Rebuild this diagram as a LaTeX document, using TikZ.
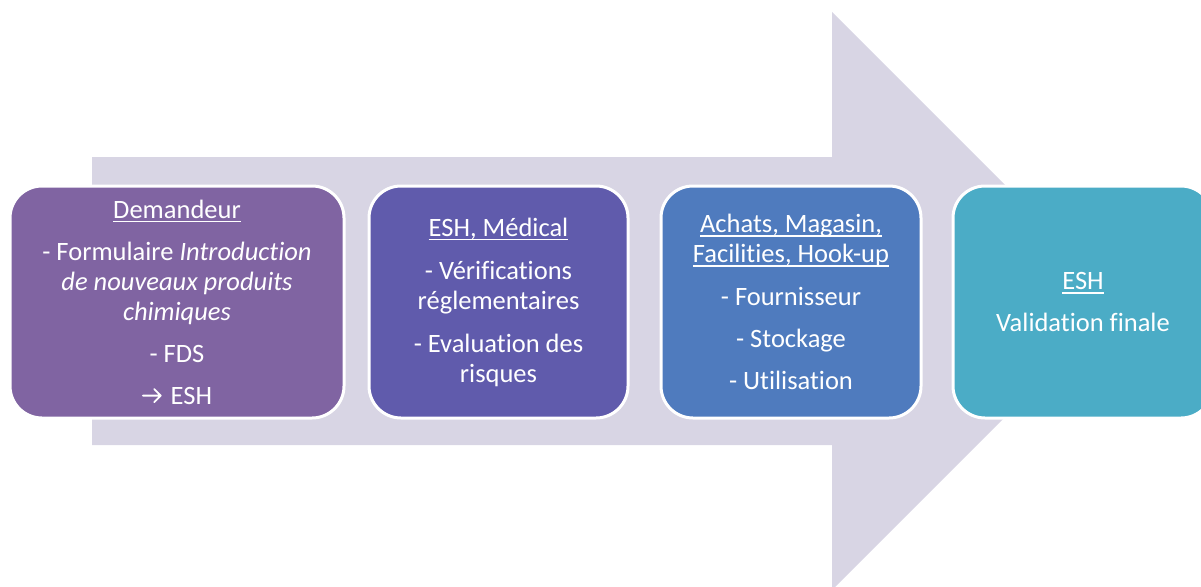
\documentclass[tikz,border=0pt]{standalone}
\usepackage{fontspec}
\setmainfont[Ligatures=NoCommon]{Carlito}
\definecolor{arrowbg}{RGB}{216,213,228}
\definecolor{cone}{RGB}{128,100,162}
\definecolor{ctwo}{RGB}{96,91,172}
\definecolor{cthree}{RGB}{79,123,190}
\definecolor{cfour}{RGB}{75,172,198}
\newcommand{\ulx}[1]{\setbox0\hbox{#1}\rlap{\rule[-4pt]{\wd0}{1.4pt}}\box0}
\newcommand{\tharrow}{\tikz[x=1pt,y=1pt,baseline=0pt]{\draw[white, line width=1.8pt, line cap=round, line join=round, rounded corners=0pt] (0,8.5) -- (18,8.5) (11.5,2) -- (18,8.5) -- (11.5,15);}}
\tikzset{
  stepbox/.style={draw=white, line width=3pt, rounded corners=32pt,
    minimum height=232pt, text=white, align=center, inner sep=0pt,
    font=\fontsize{26.5}{30}\selectfont}
}
\begin{document}
\begin{tikzpicture}[x=1pt,y=-1pt]
\useasboundingbox (0,0) rectangle (1201,586);
\begin{scope}
\clip (0,0) rectangle (1201,586);
\fill[arrowbg] (92,157) -- (832,157) -- (832,12) -- (1121,301) -- (832,590) -- (832,445) -- (92,445) -- cycle;
\node[stepbox, fill=cone, minimum width=334pt] (b1) at (177,302)
  {\ulx{Demandeur}\\[12pt]
   - Formulaire \textit{Introduction}\\
   \textit{de nouveaux produits}\\
   \textit{chimiques}\\[12pt]
   - FDS\\[12pt]
   \tharrow\hspace{9pt}ESH};
\node[stepbox, fill=ctwo, minimum width=259pt] (b2) at (498.5,302)
  {\ulx{ESH, Médical}\\[13pt]
   - Vérifications\\
   réglementaires\\[13pt]
   - Evaluation des\\
   risques};
\node[stepbox, fill=cthree, minimum width=260pt] (b3) at (791,302)
  {\ulx{Achats, Magasin,}\\
   \ulx{Facilities, Hook-up}\\[13pt]
   - Fournisseur\\[12pt]
   - Stockage\\[12pt]
   - Utilisation};
\node[stepbox, fill=cfour, minimum width=260pt] (b4) at (1083,302)
  {\ulx{ESH}\\[12pt]
   Validation finale};
\end{scope}
\end{tikzpicture}
\end{document}
